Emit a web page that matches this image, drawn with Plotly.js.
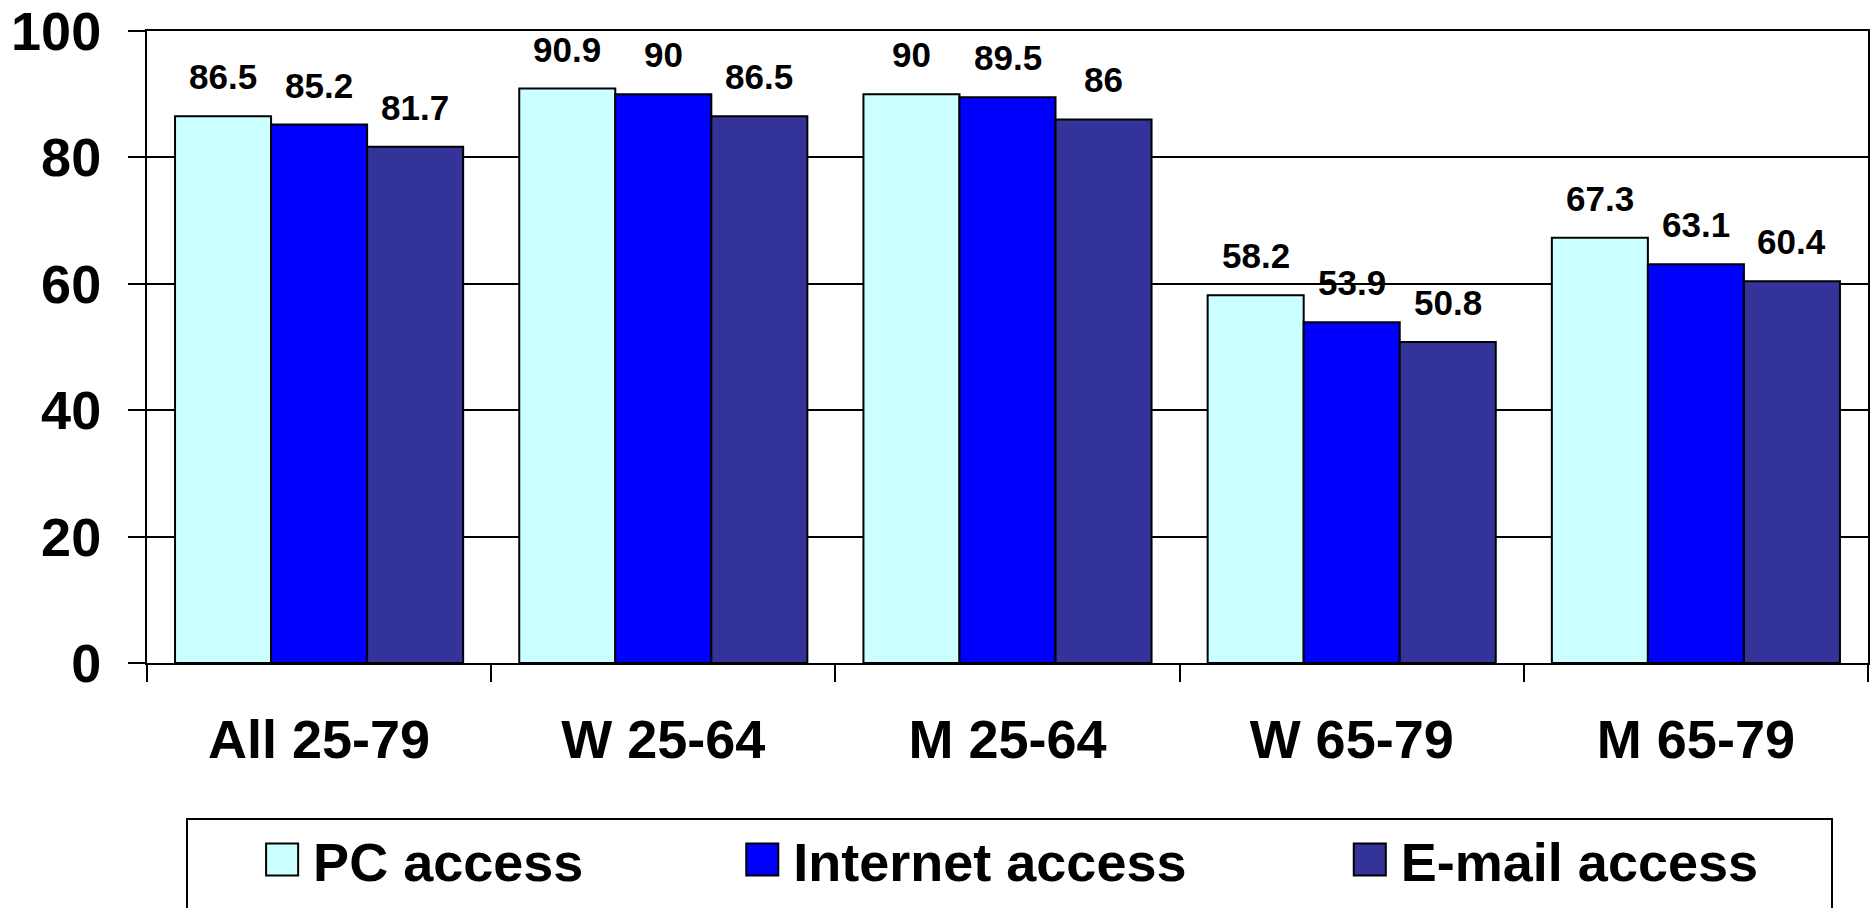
<!DOCTYPE html>
<html>
<head>
<meta charset="utf-8">
<script src="https://cdn.plot.ly/plotly-3.0.1.min.js"></script>
<style>
  html, body { margin: 0; padding: 0; background: #fff; }
  #chart { width: 1875px; height: 908px; }
</style>
</head>
<body>
<div id="chart"></div>
<script>
// ---- data ----
const categories = ["All 25-79", "W 25-64", "M 25-64", "W 65-79", "M 65-79"];
const seriesNames = ["PC access", "Internet access", "E-mail access"];
const pcAccess = [86.5, 90.9, 90, 58.2, 67.3];
const internetAccess = [85.2, 90, 89.5, 53.9, 63.1];
const emailAccess = [81.7, 86.5, 86, 50.8, 60.4];
const yTicks = [0, 20, 40, 60, 80, 100];

// ---- styling ----
const seriesValues = [pcAccess, internetAccess, emailAccess];
const colors = ["#CCFFFF", "#0000FF", "#333399"];
const FONT = "Liberation Sans, Arial, Helvetica, sans-serif";
const bargap = 0.163;
const nSeries = seriesValues.length;
const barW = (1 - bargap) / nSeries;
const legendIds = ["legend", "legend2", "legend3"];
const legendX = [0.0605, 0.3395, 0.6925];

const traces = seriesValues.map((vals, k) => ({
  type: "bar",
  name: seriesNames[k],
  x: categories,
  y: vals,
  legend: legendIds[k],
  marker: { color: colors[k], line: { color: "#000", width: 2 } },
  hoverinfo: "none"
}));

const annotations = [];
seriesValues.forEach((vals, k) => {
  vals.forEach((v, i) => {
    annotations.push({
      x: i + (k - (nSeries - 1) / 2) * barW,
      y: v,
      xref: "x", yref: "y",
      text: String(v),
      showarrow: false,
      yanchor: "bottom",
      yshift: 18,
      font: { family: FONT, size: 35, color: "#000", weight: "bold" }
    });
  });
});

const layout = {
  width: 1875, height: 908,
  margin: { l: 147, r: 7, t: 31, b: 245 },
  paper_bgcolor: "#fff", plot_bgcolor: "#fff",
  barmode: "group", bargap: bargap, bargroupgap: 0,
  showlegend: true,
  xaxis: {
    type: "category",
    tickson: "boundaries",
    ticks: "outside", ticklen: 17, tickwidth: 2, tickcolor: "#000",
    showline: true, linecolor: "#000", linewidth: 2, mirror: true,
    showgrid: false, zeroline: false,
    ticklabelstandoff: 28,
    tickfont: { family: FONT, size: 54, color: "#000", weight: "bold" }
  },
  yaxis: {
    range: [0, 100],
    tickvals: yTicks,
    ticks: "outside", ticklen: 17, tickwidth: 2, tickcolor: "#000",
    showline: true, linecolor: "#000", linewidth: 2, mirror: true,
    showgrid: true, gridcolor: "#000", gridwidth: 2,
    zeroline: false,
    ticklabelstandoff: 16,
    tickfont: { family: FONT, size: 54, color: "#000", weight: "bold" }
  },
  annotations: annotations,
  shapes: [{
    type: "rect", xref: "paper", yref: "paper",
    x0: (187 - 147) / 1721, x1: (1832 - 147) / 1721,
    y0: -0.45, y1: (663 - 819) / 632,
    line: { color: "#000", width: 2 }, fillcolor: "rgba(0,0,0,0)"
  }]
};
legendIds.forEach((id, k) => {
  layout[id] = {
    orientation: "h",
    x: legendX[k], xanchor: "left",
    yref: "container",
    y: (908 - 860) / 908, yanchor: "middle",
    bgcolor: "rgba(0,0,0,0)", borderwidth: 0,
    itemwidth: 52,
    font: { family: FONT, size: 54, color: "#000", weight: "bold" }
  };
});

Plotly.newPlot("chart", traces, layout, { displayModeBar: false, staticPlot: true }).then(gd => {
  gd.querySelectorAll(".legendpoints path").forEach(p => {
    const t = p.getAttribute("transform") || "";
    p.setAttribute("transform", t + " scale(2.67)");
    p.style.vectorEffect = "non-scaling-stroke";
  });
});
</script>
</body>
</html>
